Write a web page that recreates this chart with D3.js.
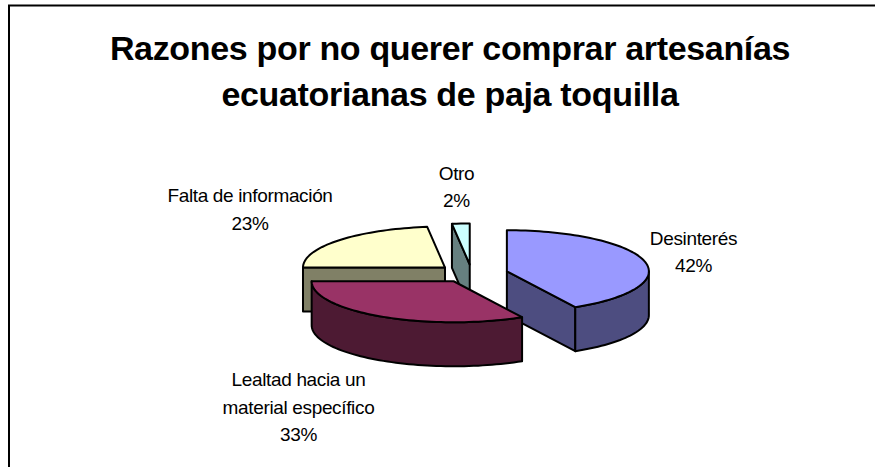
<!DOCTYPE html>
<html lang="es">
<head>
  <meta charset="UTF-8">
  <title>Razones</title>
  <style type="text/css">
    body{
      margin: 0;
      background: white;
    }
    svg{
      display: block;
    }
    text{
      font-family: "Liberation Sans", Arial, sans-serif;
      fill: black;
    }
    .title{
      font-size: 34px;
      font-weight: bold;
      letter-spacing: -0.33px;
      text-anchor: middle;
    }
    .label{
      font-size: 19px;
      letter-spacing: -0.35px;
      text-anchor: middle;
    }
    .slice path{
      stroke: black;
      stroke-width: 2px;
      stroke-linejoin: round;
    }
  </style>
  <script type="text/javascript" src="https://d3js.org/d3.v7.min.js"></script>
</head>
<body>
<script type="text/javascript">
  var categories = ['Desinterés', 'Lealtad hacia un material específico', 'Falta de información', 'Otro'];
  var percents = [42, 33, 23, 2];
  var topColors = ['#9999FF', '#993366', '#FFFFCC', '#CCFFFF'];
  var sideColors = ['#4D4D80', '#4D1A33', '#808066', '#668080'];
  var labelLines = [['Desinterés', '42%'], ['Lealtad hacia un', 'material específico', '33%'], ['Falta de información', '23%'], ['Otro', '2%']];
  var labelSpots = [[693.5, 244.5], [298.5, 386], [250, 202], [456.5, 179.5]];
  var titleLines = ['Razones por no querer comprar artesanías', 'ecuatorianas de paja toquilla'];

  var width = 875, height = 467;
  var cx = 472, cy = 273.5, rx = 142, ry = 41, depth = 44;
  var explode = 36, explodeY = 0.25;

  var svg = d3.select('body')
    .append('svg')
    .attr('width', width)
    .attr('height', height);

  // frame, cut off by the window on the right and at the bottom
  svg.append('path')
    .attr('d', 'M9,467V5.5H875')
    .attr('fill', 'none')
    .attr('stroke', 'black')
    .attr('stroke-width', 2);

  svg.selectAll('.title')
    .data(titleLines)
    .enter().append('text')
    .attr('class', 'title')
    .attr('x', 450)
    .attr('y', function(d, i){ return 60 + i * 46; })
    .text(function(d){ return d; });

  var pie = d3.pie().sort(null).value(function(d){ return d; });
  var arcs = pie(percents);

  function centerOf(d){
    var mid = (d.startAngle + d.endAngle) / 2;
    return [cx + explode * Math.sin(mid), cy - explode * explodeY * Math.cos(mid)];
  }

  // point on the elliptical rim, angle clockwise from 12 o'clock
  function rim(c, a, drop){
    return [c[0] + rx * Math.sin(a), c[1] - ry * Math.cos(a) + (drop || 0)];
  }

  function angles(a0, a1){
    var n = Math.max(2, Math.ceil(Math.abs(a1 - a0) * 30));
    return d3.range(n + 1).map(function(i){ return a0 + (a1 - a0) * i / n; });
  }

  var line = d3.line();

  function topFace(d){
    var c = centerOf(d);
    var pts = angles(d.startAngle, d.endAngle).map(function(a){ return rim(c, a); });
    return line([c].concat(pts)) + 'Z';
  }

  // wall on a straight cut, from centre to rim at angle a
  function cutWall(d, a){
    var c = centerOf(d), p = rim(c, a);
    return line([c, p, [p[0], p[1] + depth], [c[0], c[1] + depth]]) + 'Z';
  }

  // outer wall for the part of the rim that faces the viewer
  function outerWall(d){
    var a0 = Math.max(d.startAngle, Math.PI / 2);
    var a1 = Math.min(d.endAngle, Math.PI * 1.5);
    if (a1 <= a0) return null;
    var c = centerOf(d);
    var upper = angles(a0, a1).map(function(a){ return rim(c, a); });
    var lower = angles(a1, a0).map(function(a){ return rim(c, a, depth); });
    return line(upper.concat(lower)) + 'Z';
  }

  // which cut walls can be seen: end cut of the first slice, start cut of the
  // third and the fourth
  var cuts = [
    function(d){ return d.endAngle; },
    null,
    function(d){ return d.startAngle; },
    function(d){ return d.startAngle; }
  ];

  // back to front
  var order = [3, 2, 0, 1];

  order.forEach(function(i){
    var d = arcs[i];
    var g = svg.append('g').attr('class', 'slice');
    if (cuts[i]) {
      g.append('path').attr('d', cutWall(d, cuts[i](d))).attr('fill', sideColors[i]);
    }
    var outer = outerWall(d);
    if (outer) {
      g.append('path').attr('d', outer).attr('fill', sideColors[i]);
    }
    g.append('path').attr('d', topFace(d)).attr('fill', topColors[i]);
  });

  labelLines.forEach(function(lines, i){
    svg.append('text')
      .attr('class', 'label')
      .selectAll('tspan')
      .data(lines)
      .enter().append('tspan')
      .attr('x', labelSpots[i][0])
      .attr('y', function(d, j){ return labelSpots[i][1] + j * 27.5; })
      .text(function(d){ return d; });
  });
</script>
</body>
</html>
